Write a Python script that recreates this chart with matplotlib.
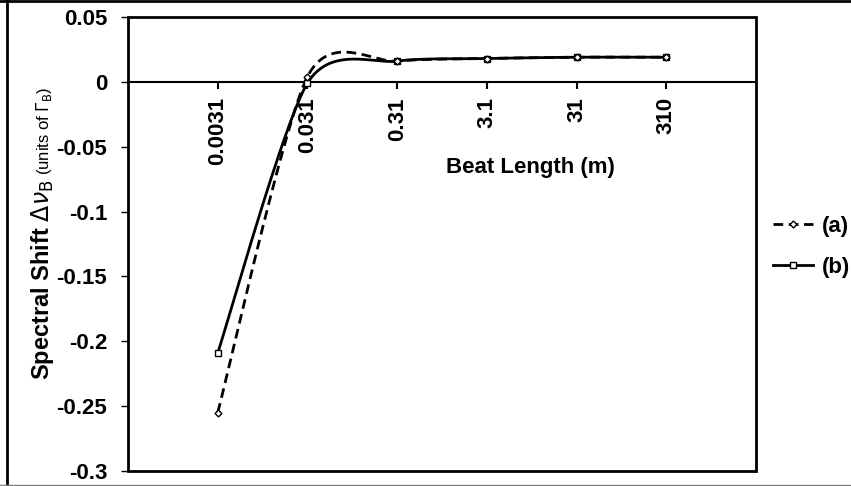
import numpy as np
import matplotlib
matplotlib.use("Agg")
import matplotlib.pyplot as plt
from matplotlib.lines import Line2D
from matplotlib.patches import Rectangle

plt.rcParams['font.family'] = ['Liberation Sans', 'DejaVu Sans']

# beat length categories (m) and spectral shift (units of Gamma_B)
beat_length = ["0.0031", "0.031", "0.31", "3.1", "31", "310"]
shift_a = [-0.255, 0.004, 0.016, 0.018, 0.019, 0.019]
shift_b = [-0.209, -0.001, 0.016, 0.018, 0.019, 0.019]
yticks = [0.05, 0, -0.05, -0.1, -0.15, -0.2, -0.25, -0.3]
ytick_labels = ["0.05", "0", "-0.05", "-0.1", "-0.15", "-0.2", "-0.25", "-0.3"]


# Excel-like smoothed line (bezier through the points)
def smooth(y, k=0.13, n=40):
    x = np.arange(len(y))
    pts = np.column_stack([x, y]).astype(float)
    out = []
    for i in range(len(pts) - 1):
        p0 = pts[max(i - 1, 0)]
        p1 = pts[i]
        p2 = pts[i + 1]
        p3 = pts[min(i + 2, len(pts) - 1)]
        c1 = p1 + k * (p2 - p0)
        c2 = p2 - k * (p3 - p1)
        t = np.linspace(0, 1, n)[:, None]
        seg = (1 - t)**3 * p1 + 3 * (1 - t)**2 * t * c1 + 3 * (1 - t) * t**2 * c2 + t**3 * p2
        out.append(seg if i == 0 else seg[1:])
    return np.vstack(out)


W, H = 851, 486
fig = plt.figure(figsize=(W / 100, H / 100), dpi=100)
ax = fig.add_axes([128 / W, 1 - 471 / H, (756 - 128) / W, (471 - 17) / H])

xs = np.arange(len(beat_length))
sa = smooth(shift_a)
sb = smooth(shift_b)
ax.plot(sb[:, 0], sb[:, 1], color='black', lw=2, zorder=3)
ax.plot(sa[:, 0], sa[:, 1], color='black', lw=2, ls=(0, (3.5, 2)), zorder=4)
ax.plot(xs, shift_b, ls='none', marker='s', ms=5, mfc='white', mec='black', mew=1, zorder=5)
ax.plot(xs, shift_a, ls='none', marker='D', ms=3.5, mfc='white', mec='black', mew=1, zorder=5)

ax.set_xlim(-1, 6)
ax.set_ylim(-0.3, 0.05)

# x axis crosses at y = 0, labels rotated under it
for s in ['top', 'right', 'left']:
    ax.spines[s].set_visible(False)
ax.spines['bottom'].set_position(('data', 0))
ax.spines['bottom'].set_linewidth(1.5)
ax.add_patch(Rectangle((0, 0), 1, 1, transform=ax.transAxes, fill=False,
                       lw=2, ec='black', clip_on=False, zorder=6))

ax.set_xticks(xs)
ax.set_xticklabels(beat_length, rotation=90, fontsize=16, fontweight='bold')
ax.tick_params(axis='x', direction='out', length=5, width=1.5, pad=6)
ax.set_yticks(yticks)
ax.set_yticklabels(ytick_labels, fontsize=16, fontweight='bold')
ax.tick_params(axis='y', direction='out', length=5, width=1, pad=10)

ax.text(530 / 851, 1 - 168 / H, "Beat Length (m)", transform=fig.transFigure,
        ha='center', va='center', fontsize=16, fontweight='bold')

# y label in two sizes
t1 = fig.text(49 / W, 1 - 380 / H, r"Spectral Shift $\Delta\nu_{\mathrm{B}}$", rotation=90,
              rotation_mode='anchor', ha='left', va='baseline', fontsize=17, fontweight='bold')
fig.canvas.draw()
bb = t1.get_window_extent()
fig.text(49 / W, (bb.y1 + 5) / H, r"(units of $\Gamma_{\mathrm{B}}$)", rotation=90,
         rotation_mode='anchor', ha='left', va='baseline', fontsize=12)

# legend outside the plot area
handles = [Line2D([], [], color='black', lw=2, ls=(0, (3.5, 2)), marker='D', ms=3.5,
                  mfc='white', mec='black'),
           Line2D([], [], color='black', lw=2, marker='s', ms=5, mfc='white', mec='black')]
fig.legend(handles, ["(a)", "(b)"], loc='center left', bbox_to_anchor=(773 / W, 1 - 247 / H),
           frameon=False, borderpad=0, borderaxespad=0, handlelength=1.8, handletextpad=0.4,
           labelspacing=0.9, prop={'size': 16, 'weight': 'bold'})

# outer frame of the picture
fig.add_artist(Line2D([0, 1], [1 - 1 / H, 1 - 1 / H], transform=fig.transFigure, color='black', lw=2))
fig.add_artist(Line2D([7 / W, 7 / W], [0, 1], transform=fig.transFigure, color='black', lw=2))
fig.add_artist(Line2D([0, 1], [1 / H, 1 / H], transform=fig.transFigure, color='gray', lw=1))

fig.savefig("out.png", dpi=100)
